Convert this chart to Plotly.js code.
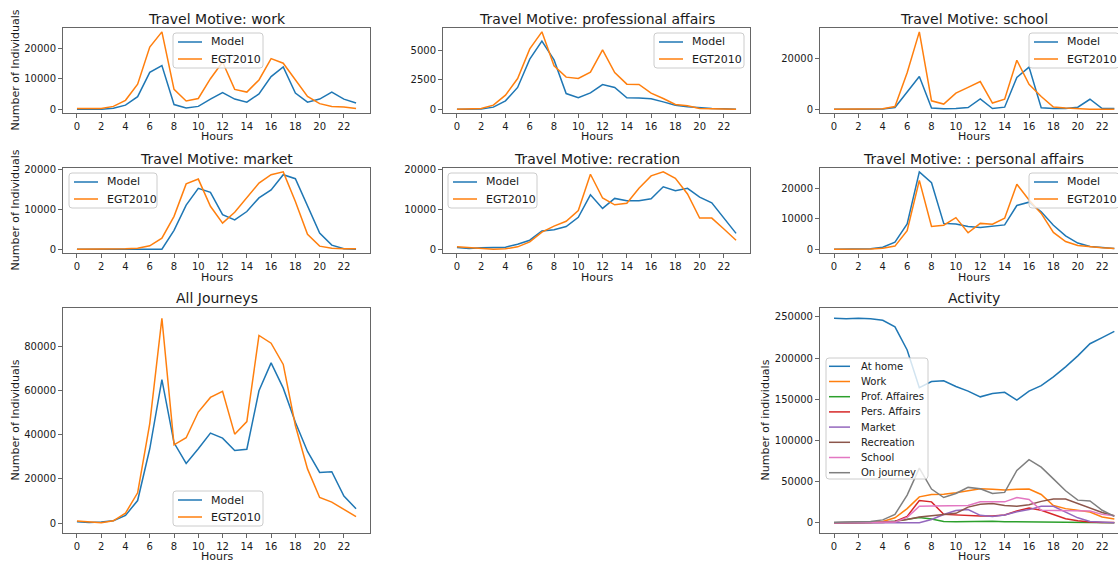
<!DOCTYPE html>
<html><head><meta charset="utf-8">
<script src="https://cdn.plot.ly/plotly-3.0.1.min.js"></script>
<style>html,body{margin:0;padding:0;background:#fff;overflow:hidden}</style>
</head><body><div id="chart" style="width:1118px;height:562px"></div>
<script>
// ---------------- data ----------------
const hours = [0,1,2,3,4,5,6,7,8,9,10,11,12,13,14,15,16,17,18,19,20,21,22,23];

const workModel = [0,0,0,300,1300,4100,12100,14300,1500,400,900,3300,5400,3300,2300,5000,10700,13900,5300,2300,3300,5600,3300,2000];
const workEGT   = [200,200,200,900,2900,8200,20400,25400,6500,2700,3500,10000,15500,6500,5600,9600,16600,15100,9800,4200,1800,900,700,200];

const profModel = [0,0,20,170,710,1850,4260,5800,4200,1330,970,1390,2100,1850,970,940,880,620,340,200,110,60,30,0];
const profEGT   = [0,0,50,340,1190,2610,5140,6590,3690,2730,2610,3150,5060,3120,2130,2100,1360,910,400,280,60,30,0,0];

const schoolModel = [0,0,0,0,100,650,6900,12900,400,130,260,650,4050,260,780,12500,16600,520,260,260,780,3900,260,260];
const schoolEGT   = [0,0,0,0,130,1050,14400,30500,3300,2000,6300,8600,10900,2400,3900,19300,9800,5000,800,400,130,0,0,0];

const marketModel = [0,0,0,0,0,0,0,0,4700,11000,15200,14200,8600,7300,9400,12800,14800,18600,17600,10700,4000,1000,100,0];
const marketEGT   = [0,0,0,0,100,250,830,2750,8200,16300,17500,10700,6500,9200,12800,16500,18600,19300,11900,3700,750,250,100,100];

const recModel = [500,250,400,500,570,1300,2300,4600,4900,5700,8000,13600,10200,12700,12100,12100,12600,15600,14600,15200,13000,11600,7800,4000];
const recEGT   = [650,400,250,80,160,650,1900,4300,5800,7000,9700,18700,12800,11100,11500,15200,18300,19300,17700,13800,7800,7800,5100,2300];

const persModel = [0,0,0,100,650,2300,8300,25500,21900,8500,8300,7500,7100,7650,8000,14400,15500,12300,7900,4400,2000,900,440,200];
const persEGT   = [0,0,0,50,330,1000,6100,22700,7500,7900,10400,5400,8500,8200,10200,21400,16200,11800,5500,2500,1200,770,440,200];

const allModel = [600,300,450,1050,3500,10200,33600,64800,36300,27000,33600,40700,38400,32800,33400,59800,72400,61000,45600,32400,22900,23200,12200,6500];
const allEGT   = [900,600,150,1050,4500,13700,45000,92600,35400,38600,50200,56800,59600,40200,45900,84800,81300,71700,44100,24500,11600,9500,6200,2900];

const actHome    = [248500,248000,248500,248000,246000,238000,210000,164000,171500,172400,165500,160000,153000,157000,158500,149000,160000,166700,177200,189400,202800,217500,225000,232500];
const actWork    = [0,0,0,300,1500,6000,17200,31500,34400,34800,36500,38500,41400,40600,39800,40600,41000,34400,20900,17200,15200,13100,7000,4500];
const actProf    = [0,0,0,0,500,2000,4000,6300,4500,1500,1200,1500,2200,2000,1300,1200,1200,800,500,300,200,100,50,0];
const actPers    = [0,0,0,0,300,1600,7800,27000,25400,10200,9400,9000,8200,8200,9400,14300,18000,15200,10200,4900,2500,800,400,200];
const actMarket  = [0,0,0,0,0,0,0,0,4000,10000,15000,16000,9000,7500,9500,13500,16000,20000,20000,13000,6000,1500,400,0];
const actRec     = [0,0,200,400,800,2000,4000,7000,8500,9500,11500,19000,22500,23500,21000,20000,22000,26000,29000,28800,23500,18000,12500,8500];
const actSchool  = [0,0,0,0,0,800,6500,20000,20500,20500,20900,20900,25400,25400,25400,30700,28300,15200,15200,14300,15200,14300,10200,8600];
const actJourney = [500,700,1000,1500,3500,10200,33600,66400,41000,30700,35600,43000,41400,35600,36900,63500,76600,67600,53300,38900,27500,26600,15200,7800];

const seriesNames = ['Model','EGT2010'];
const activityNames = ['At home','Work','Prof. Affaires','Pers. Affairs','Market','Recreation','School','On journey'];
const titles = ['Travel Motive: work','Travel Motive: professional affairs','Travel Motive: school',
  'Travel Motive: market','Travel Motive: recration','Travel Motive: : personal affairs','All Journeys','Activity'];

// ---------------- layout helpers ----------------
const W = 1118, H = 562;
const fx = p => p / W, fy = p => 1 - p / H;
const FONT = 'DejaVu Sans, Verdana, sans-serif';
const TXT = '#1a1a1a';
const SPINE = '#666';
const C = ['#1f77b4','#ff7f0e','#2ca02c','#d62728','#9467bd','#8c564b','#e377c2','#7f7f7f'];

function yRange(arrs){
  const all = arrs.flat();
  const mn = Math.min(...all), mx = Math.max(...all);
  const m = (mx - mn) * 0.05;
  return [mn - m, mx + m];
}

// panel geometry (pixels): x0,x1,y0,y1 ; legend box ; label positions
const panels = [
  {data:[workModel,workEGT],     box:[63,370,28,113],  xmax:24.15, dtick:10000, ylabel:'Number of Individuals', ylx:15, leg:[173,263,33,68], tcx:216.5, ty:19,  hy:137},
  {data:[profModel,profEGT],     box:[443,750,28,113], xmax:24.15, dtick:2500,  leg:[654,744,33,68], tcx:596.5, ty:19, hy:137},
  {data:[schoolModel,schoolEGT], box:[820,1118,28,113],xmax:23.3,  dtick:20000, leg:[1029,1119,33,68], tcx:973.5, ty:19, hy:137},
  {data:[marketModel,marketEGT], box:[63,370,168,253], xmax:24.15, dtick:10000, ylabel:'Number of Individuals', ylx:15, leg:[69,157,173,208], tcx:216.5, ty:159, hy:277},
  {data:[recModel,recEGT],       box:[443,750,168,253],xmax:24.15, dtick:10000, leg:[448,537,173,208], tcx:596.5, ty:159, hy:277},
  {data:[persModel,persEGT],     box:[820,1118,168,253],xmax:23.3, dtick:10000, leg:[1029,1119,173,208], tcx:973.5, ty:159, hy:277},
  {data:[allModel,allEGT],       box:[63,370,308,533], xmax:24.15, dtick:20000, ylabel:'Number of Individuals', ylx:15, leg:[173,263,491,526], tcx:216.5, ty:298, hy:556},
  {data:[actHome,actWork,actProf,actPers,actMarket,actRec,actSchool,actJourney], box:[820,1118,308,533], xmax:23.3, dtick:50000,
     ylabel:'Number of individuals', ylx:765, leg:[826,928,358,479], tcx:973.5, ty:298, hy:556, activity:true}
];

function rrect(x0,y0,x1,y1,r){
  const P = (x,y) => `${fx(x)},${fy(y)}`;
  return `M${P(x0+r,y0)} L${P(x1-r,y0)} Q${P(x1,y0)} ${P(x1,y0+r)} L${P(x1,y1-r)} Q${P(x1,y1)} ${P(x1-r,y1)} ` +
         `L${P(x0+r,y1)} Q${P(x0,y1)} ${P(x0,y1-r)} L${P(x0,y0+r)} Q${P(x0,y0)} ${P(x0+r,y0)} Z`;
}

const traces = [], shapes = [], annotations = [];
const layout = {
  width: W, height: H, margin:{l:0,r:0,t:0,b:0},
  paper_bgcolor:'#fff', plot_bgcolor:'#fff', showlegend:false,
  font:{family:FONT, color:TXT, size:10}
};

panels.forEach((p, i) => {
  const n = i + 1;
  const xa = n === 1 ? 'x' : 'x' + n, ya = n === 1 ? 'y' : 'y' + n;
  const names = p.activity ? activityNames : seriesNames;
  p.data.forEach((arr, k) => {
    traces.push({x: hours, y: arr, type:'scatter', mode:'lines', name: names[k],
      xaxis: xa, yaxis: ya, line:{color: C[k], width:1.5}, hoverinfo:'x+y+name'});
  });
  const [x0,x1,y0,y1] = p.box;
  const axCommon = {ticks:'outside', ticklen:4, tickwidth:1, tickcolor:SPINE, showline:true, mirror:true,
    linecolor:SPINE, linewidth:1, showgrid:false, zeroline:false, tickfont:{size:10, family:FONT, color:TXT}, fixedrange:true};
  layout[n === 1 ? 'xaxis' : 'xaxis' + n] = Object.assign({}, axCommon, {
    domain:[fx(x0), fx(x1)], range:[-1.15, p.xmax], tickvals: hours.filter(h => h % 2 === 0), anchor: ya});
  layout[n === 1 ? 'yaxis' : 'yaxis' + n] = Object.assign({}, axCommon, {
    domain:[fy(y1), fy(y0)], range: yRange(p.data), dtick: p.dtick, tick0:0, tickformat:'d', anchor: xa});

  // title
  annotations.push({text: titles[i], xref:'paper', yref:'paper', x: fx(p.tcx), y: fy(p.ty),
    xanchor:'center', yanchor:'middle', showarrow:false, font:{size:14, family:FONT, color:TXT}});
  // x label
  annotations.push({text:'Hours', xref:'paper', yref:'paper', x: fx(p.tcx), y: fy(p.hy),
    xanchor:'center', yanchor:'middle', showarrow:false, font:{size:11, family:FONT, color:TXT}});
  // y label
  if (p.ylabel) annotations.push({text:p.ylabel, xref:'paper', yref:'paper', x: fx(p.ylx), y: fy((y0+y1)/2),
    xanchor:'center', yanchor:'middle', textangle:-90, showarrow:false, font:{size:11, family:FONT, color:TXT}});

  // legend
  const [lx0,lx1,ly0,ly1] = p.leg;
  shapes.push({type:'path', xref:'paper', yref:'paper', path: rrect(lx0,ly0,lx1,ly1,3),
    fillcolor:'rgba(255,255,255,0.8)', line:{color:'#cccccc', width:1}, layer:'above'});
  const fs = p.activity ? 10 : 11;
  const step = p.activity ? 15.2 : 17;
  const first = p.activity ? ly0 + 8.3 : ly0 + 9;
  const handle = p.activity ? [3, 24, 33] : [5, 29, 36];
  names.forEach((nm, k) => {
    const ry = first + k * step;
    shapes.push({type:'line', xref:'paper', yref:'paper', x0: fx(lx0 + handle[0]), x1: fx(lx0 + handle[1]),
      y0: fy(ry), y1: fy(ry), line:{color: C[k], width:1.5}, layer:'above'});
    annotations.push({text:nm, xref:'paper', yref:'paper', x: fx(lx0 + handle[2]), y: fy(ry),
      xanchor:'left', yanchor:'middle', showarrow:false, font:{size:fs, family:FONT, color:TXT}});
  });
});

layout.shapes = shapes;
layout.annotations = annotations;
Plotly.newPlot('chart', traces, layout, {displayModeBar:false, staticPlot:true});
</script>
</body></html>
